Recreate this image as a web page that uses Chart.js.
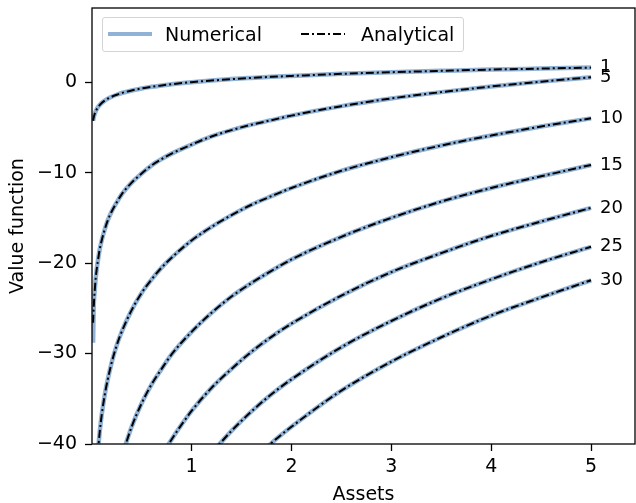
<!DOCTYPE html>
<html>
<head>
<meta charset="utf-8">
<script src="https://cdn.jsdelivr.net/npm/chart.js@4.4.1/dist/chart.umd.min.js"></script>
<style>
  html, body { margin: 0; padding: 0; background: #fff; }
  #wrap { position: relative; width: 636px; height: 503px; }
  #legend {
    position: absolute; left: 102px; top: 17px; width: 360px; height: 33px;
    border: 1px solid #d4d4d4; border-radius: 3px; background: rgba(255,255,255,0.8);
    font-family: "DejaVu Sans", sans-serif; font-size: 19px; color: #000;
  }
  #legend .item { position: absolute; top: 0; height: 33px; line-height: 33px; }
  #legend svg { position: absolute; top: 0; }
</style>
</head>
<body>
<div id="wrap">
  <canvas id="vfChart" width="636" height="503"></canvas>
  <div id="legend">
    <svg style="left:5px" width="44" height="33"><line x1="0" y1="16" x2="44" y2="16" stroke="#8fb2d6" stroke-width="4"/></svg>
    <span class="item" style="left:62px">Numerical</span>
    <svg style="left:198px" width="44" height="33"><line x1="0" y1="16" x2="44" y2="16" stroke="#000" stroke-width="2" stroke-dasharray="8,3,2,3"/></svg>
    <span class="item" style="left:258px">Analytical</span>
  </div>
</div>
<script>
(function () {

// periods remaining, as written at the right end of each curve
const horizons = ["1", "5", "10", "15", "20", "25", "30"];

// asset grid the curves were read at
const assets = [0.014, 0.02, 0.03, 0.04, 0.05, 0.06, 0.08, 0.1, 0.13, 0.16, 0.2, 0.25, 0.3, 0.4, 0.5,
                0.6, 0.7, 0.8, 1.0, 1.2, 1.4, 1.6, 1.8, 2.0, 2.5, 3.0, 3.5, 4.0, 4.5, 5.0];

// analytical value function, one list per horizon (null = off the chart)
const v1  = [-4.27, -3.91, -3.51, -3.22, -3.0, -2.81, -2.53, -2.3, -2.04, -1.83, -1.61, -1.39, -1.2, -0.92, -0.69,
             -0.51, -0.36, -0.22, 0.0, 0.18, 0.34, 0.47, 0.59, 0.69, 0.92, 1.1, 1.25, 1.39, 1.5, 1.61];
const v5  = [-26.6, -24.9, -23.1, -21.7, -20.7, -19.9, -18.5, -17.5, -16.3, -15.3, -14.3, -13.3, -12.4, -11.1, -10.1,
             -9.2, -8.5, -7.9, -6.9, -6.0, -5.3, -4.7, -4.2, -3.7, -2.65, -1.8, -1.1, -0.48, 0.06, 0.55];
const v10 = [null, null, null, null, null, -41.1, -38.7, -36.8, -34.6, -32.9, -31.0, -29.1, -27.6, -25.2, -23.3,
             -21.8, -20.5, -19.4, -17.5, -16.0, -14.7, -13.55, -12.6, -11.7, -9.8, -8.3, -7.0, -5.9, -4.9, -4.0];
const v15 = [null, null, null, null, null, null, null, null, null, null, null, null, -41.4, -38.1, -35.5,
             -33.4, -31.7, -30.1, -27.6, -25.5, -23.7, -22.2, -20.85, -19.6, -17.1, -15.0, -13.2, -11.7, -10.4, -9.15];
const v20 = [null, null, null, null, null, null, null, null, null, null, null, null, null, null, null,
             null, -41.3, -39.5, -36.35, -33.8, -31.7, -29.8, -28.15, -26.7, -23.6, -21.0, -18.9, -17.0, -15.4, -13.9];
const v25 = [null, null, null, null, null, null, null, null, null, null, null, null, null, null, null,
             null, null, null, null, -41.0, -38.55, -36.4, -34.5, -32.85, -29.3, -26.4, -23.9, -21.8, -19.9, -18.2];
const v30 = [null, null, null, null, null, null, null, null, null, null, null, null, null, null, null,
             null, null, null, null, null, null, -42.0, -39.9, -38.1, -34.1, -30.9, -28.2, -25.8, -23.8, -21.9];
const analytical = [v1, v5, v10, v15, v20, v25, v30];

// numerical solution lies on top of the analytical one, except the first grid point at 5 periods
const numerical = analytical.map(v => v.slice());
numerical[1][0] = -28.8;

const xTicks = [1, 2, 3, 4, 5];
const yTicks = [-40, -30, -20, -10, 0];

const FONT = "'DejaVu Sans', sans-serif";
const BLUE = "#8fb2d6";

function points(vals) {
  const out = [];
  vals.forEach((y, i) => { if (y !== null) out.push({ x: assets[i], y: y }); });
  return out;
}

const datasets = [];
analytical.forEach((v, i) => {
  datasets.push({
    label: "Analytical " + horizons[i],
    data: points(v),
    borderColor: "#000",
    borderWidth: 2,
    borderDash: [8, 3, 2, 3],
    pointRadius: 0,
    cubicInterpolationMode: "monotone",
    clip: 0,
    order: 0
  });
});
numerical.forEach((v, i) => {
  datasets.push({
    label: "Numerical " + horizons[i],
    data: points(v),
    borderColor: BLUE,
    borderWidth: 4.5,
    pointRadius: 0,
    cubicInterpolationMode: "monotone",
    clip: 0,
    order: 1
  });
});

const frame = {
  id: "frame",
  afterDatasetsDraw(chart) {
    const a = chart.chartArea;
    const c = chart.ctx;
    c.save();
    c.strokeStyle = "#000";
    c.lineWidth = 1.3;
    c.strokeRect(a.left, a.top, a.right - a.left, a.bottom - a.top);
    c.restore();
  }
};

const curveLabels = {
  id: "curveLabels",
  afterDatasetsDraw(chart) {
    const c = chart.ctx;
    const xs = chart.scales.x, ys = chart.scales.y;
    c.save();
    c.font = "18px " + FONT;
    c.fillStyle = "#000";
    c.textAlign = "left";
    c.textBaseline = "middle";
    analytical.forEach((v, i) => {
      const last = v[v.length - 1];
      c.fillText(horizons[i], xs.getPixelForValue(assets[assets.length - 1]) + 9, ys.getPixelForValue(last));
    });
    c.restore();
  }
};

const minus = v => String(v).replace("-", "\u2212");

new Chart(document.getElementById("vfChart"), {
  type: "line",
  data: { datasets },
  options: {
    responsive: false,
    animation: false,
    parsing: false,
    layout: { padding: { top: 8, right: 1, left: 0, bottom: 0 } },
    plugins: { legend: { display: false }, tooltip: { enabled: false } },
    scales: {
      x: {
        type: "linear",
        min: 0.003,
        max: 5.44,
        afterBuildTicks: s => { s.ticks = xTicks.map(v => ({ value: v })); },
        afterFit: s => { s.height = 59; s.paddingLeft = 0; s.paddingRight = 0; },
        grid: { drawOnChartArea: false, tickLength: 7, tickColor: "#000", tickWidth: 1.3 },
        border: { display: false },
        ticks: { color: "#000", font: { family: FONT, size: 19 }, padding: 5, maxRotation: 0, callback: minus },
        title: { display: true, text: "Assets", color: "#000", font: { family: FONT, size: 19, lineHeight: 1.0 }, padding: { top: 0, bottom: -2 } }
      },
      y: {
        min: -40,
        max: 8.2,
        afterBuildTicks: s => { s.ticks = yTicks.map(v => ({ value: v })); },
        afterFit: s => { s.width = 92; s.paddingTop = 0; s.paddingBottom = 0; },
        grid: { drawOnChartArea: false, tickLength: 7, tickColor: "#000", tickWidth: 1.3 },
        border: { display: false },
        ticks: { color: "#000", font: { family: FONT, size: 19 }, padding: 8, callback: minus },
        title: { display: true, text: "Value function", color: "#000", font: { family: FONT, size: 19, lineHeight: 1.0 }, padding: { top: 9, bottom: 0 } }
      }
    }
  },
  plugins: [frame, curveLabels]
});

})();
</script>
</body>
</html>
